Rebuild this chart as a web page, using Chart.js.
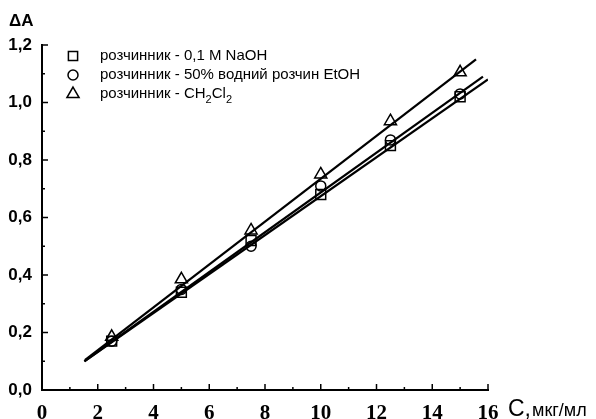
<!DOCTYPE html>
<html>
<head>
<meta charset="utf-8">
<script src="https://cdn.jsdelivr.net/npm/chart.js@4"></script>
<style>
  html, body { margin: 0; padding: 0; background: #fff; }
  #wrap { width: 596px; height: 419px; }
</style>
</head>
<body>
<div id="wrap"><canvas id="chart"></canvas></div>
<script>
// Concentration, мкг/мл
const concX = [2.5, 5, 7.5, 10, 12.5, 15];

// ΔA for each solvent
const naohY = [0.17, 0.34, 0.52, 0.68, 0.85, 1.02];
const etohY = [0.17, 0.35, 0.50, 0.71, 0.87, 1.03];
const ch2cl2Y = [0.185, 0.385, 0.555, 0.75, 0.935, 1.105];

// Fitted lines, read as start / end points
const naohFitX = [1.52, 16.0];
const naohFitY = [0.10, 1.08];
const etohFitX = [1.52, 15.82];
const etohFitY = [0.10, 1.09];
const ch2cl2FitX = [1.55, 15.57];
const ch2cl2FitY = [0.105, 1.15];

const xTicks = [0, 2, 4, 6, 8, 10, 12, 14, 16];
const yTicks = [0, 0.2, 0.4, 0.6, 0.8, 1.0, 1.2];

const legendLabels = ['розчинник - 0,1 M NaOH', 'розчинник - 50% водний розчин EtOH', 'розчинник - CH'];

const pts = (xs, ys) => xs.map((x, i) => ({ x: x, y: ys[i] }));

const SANS = '"Liberation Sans", Arial, sans-serif';
const SERIF = '"Liberation Serif", "Times New Roman", serif';

function markerSet(label, ys, style, r) {
    return {
        label: label,
        data: pts(concX, ys),
        showLine: false,
        pointStyle: style,
        pointRadius: r,
        pointBorderWidth: 1.5,
        borderColor: '#000',
        backgroundColor: 'rgba(0,0,0,0)'
    };
}

function fitSet(xs, ys) {
    return {
        data: pts(xs, ys),
        showLine: true,
        pointRadius: 0,
        borderColor: '#000',
        borderWidth: 2.2,
        fill: false
    };
}

// Inward ticks, axis titles and legend
const decorPlugin = {
    id: 'decor',
    afterDraw(chart) {
        const ctx = chart.ctx;
        const xs = chart.scales.x;
        const ys = chart.scales.y;
        const area = chart.chartArea;
        ctx.save();
        ctx.strokeStyle = '#000';
        ctx.lineWidth = 1.5;
        for (let v = 0; v <= 16; v++) {
            const px = xs.getPixelForValue(v);
            const len = v % 2 === 0 ? 6 : 3;
            ctx.beginPath();
            ctx.moveTo(px, area.bottom);
            ctx.lineTo(px, area.bottom - len);
            ctx.stroke();
        }
        for (let k = 0; k <= 12; k++) {
            const py = ys.getPixelForValue(k / 10);
            const len = k % 2 === 0 ? 6 : 3;
            ctx.beginPath();
            ctx.moveTo(area.left, py);
            ctx.lineTo(area.left + len, py);
            ctx.stroke();
        }

        ctx.fillStyle = '#000';
        ctx.textBaseline = 'alphabetic';
        ctx.textAlign = 'left';
        ctx.font = 'bold 17px ' + SANS;
        ctx.fillText('ΔA', 9, 26);

        ctx.font = '23px ' + SANS;
        ctx.fillText('C,', 508, 416);
        const cw = ctx.measureText('C,').width;
        ctx.font = '18px ' + SANS;
        ctx.fillText('мкг/мл', 508 + cw + 1, 416);

        // legend
        const styles = ['rect', 'circle', 'triangle'];
        const radii = [6.5, 5, 7];
        const rowY = [56, 75, 94];
        for (let i = 0; i < 3; i++) {
            ctx.fillStyle = 'rgba(0,0,0,0)';
            ctx.strokeStyle = '#000';
            ctx.lineWidth = 1.5;
            Chart.helpers.drawPoint(ctx, {
                pointStyle: styles[i], radius: radii[i], borderWidth: 1.5
            }, 73, rowY[i]);
            ctx.fillStyle = '#000';
            ctx.font = '15px ' + SANS;
            ctx.textBaseline = 'middle';
            ctx.fillText(legendLabels[i], 100, rowY[i]);
            if (i === 2) {
                let x = 100 + ctx.measureText(legendLabels[i]).width;
                ctx.font = '11px ' + SANS;
                ctx.fillText('2', x, rowY[i] + 6);
                x += ctx.measureText('2').width;
                ctx.font = '15px ' + SANS;
                ctx.fillText('Cl', x, rowY[i]);
                x += ctx.measureText('Cl').width;
                ctx.font = '11px ' + SANS;
                ctx.fillText('2', x, rowY[i] + 6);
            }
        }
        ctx.restore();
    }
};

new Chart(document.getElementById('chart'), {
    type: 'scatter',
    data: {
        datasets: [
            fitSet(naohFitX, naohFitY),
            fitSet(etohFitX, etohFitY),
            fitSet(ch2cl2FitX, ch2cl2FitY),
            markerSet('NaOH', naohY, 'rect', 7),
            markerSet('EtOH', etohY, 'circle', 5),
            markerSet('CH2Cl2', ch2cl2Y, 'triangle', 7)
        ]
    },
    options: {
        responsive: true,
        maintainAspectRatio: false,
        animation: false,
        layout: { padding: { top: 45, right: 108, left: 0, bottom: 0 } },
        plugins: {
            legend: { display: false },
            tooltip: { enabled: false }
        },
        scales: {
            x: {
                type: 'linear',
                min: 0,
                max: 16,
                afterBuildTicks: (s) => { s.ticks = xTicks.map(v => ({ value: v })); },
                afterFit: (s) => { s.height = 29; },
                ticks: {
                    color: '#000',
                    padding: 3,
                    maxRotation: 0,
                    font: { family: SERIF, size: 21, weight: 'bold' }
                },
                grid: { display: false },
                border: { color: '#000', width: 2 }
            },
            y: {
                min: 0,
                max: 1.2,
                afterBuildTicks: (s) => { s.ticks = yTicks.map(v => ({ value: v })); },
                afterFit: (s) => { s.width = 42; },
                ticks: {
                    color: '#000',
                    padding: 2,
                    font: { family: SANS, size: 17, weight: 'bold' },
                    callback: (v) => v.toFixed(1).replace('.', ',')
                },
                grid: { display: false },
                border: { color: '#000', width: 2 }
            }
        }
    },
    plugins: [decorPlugin]
});
</script>
</body>
</html>
